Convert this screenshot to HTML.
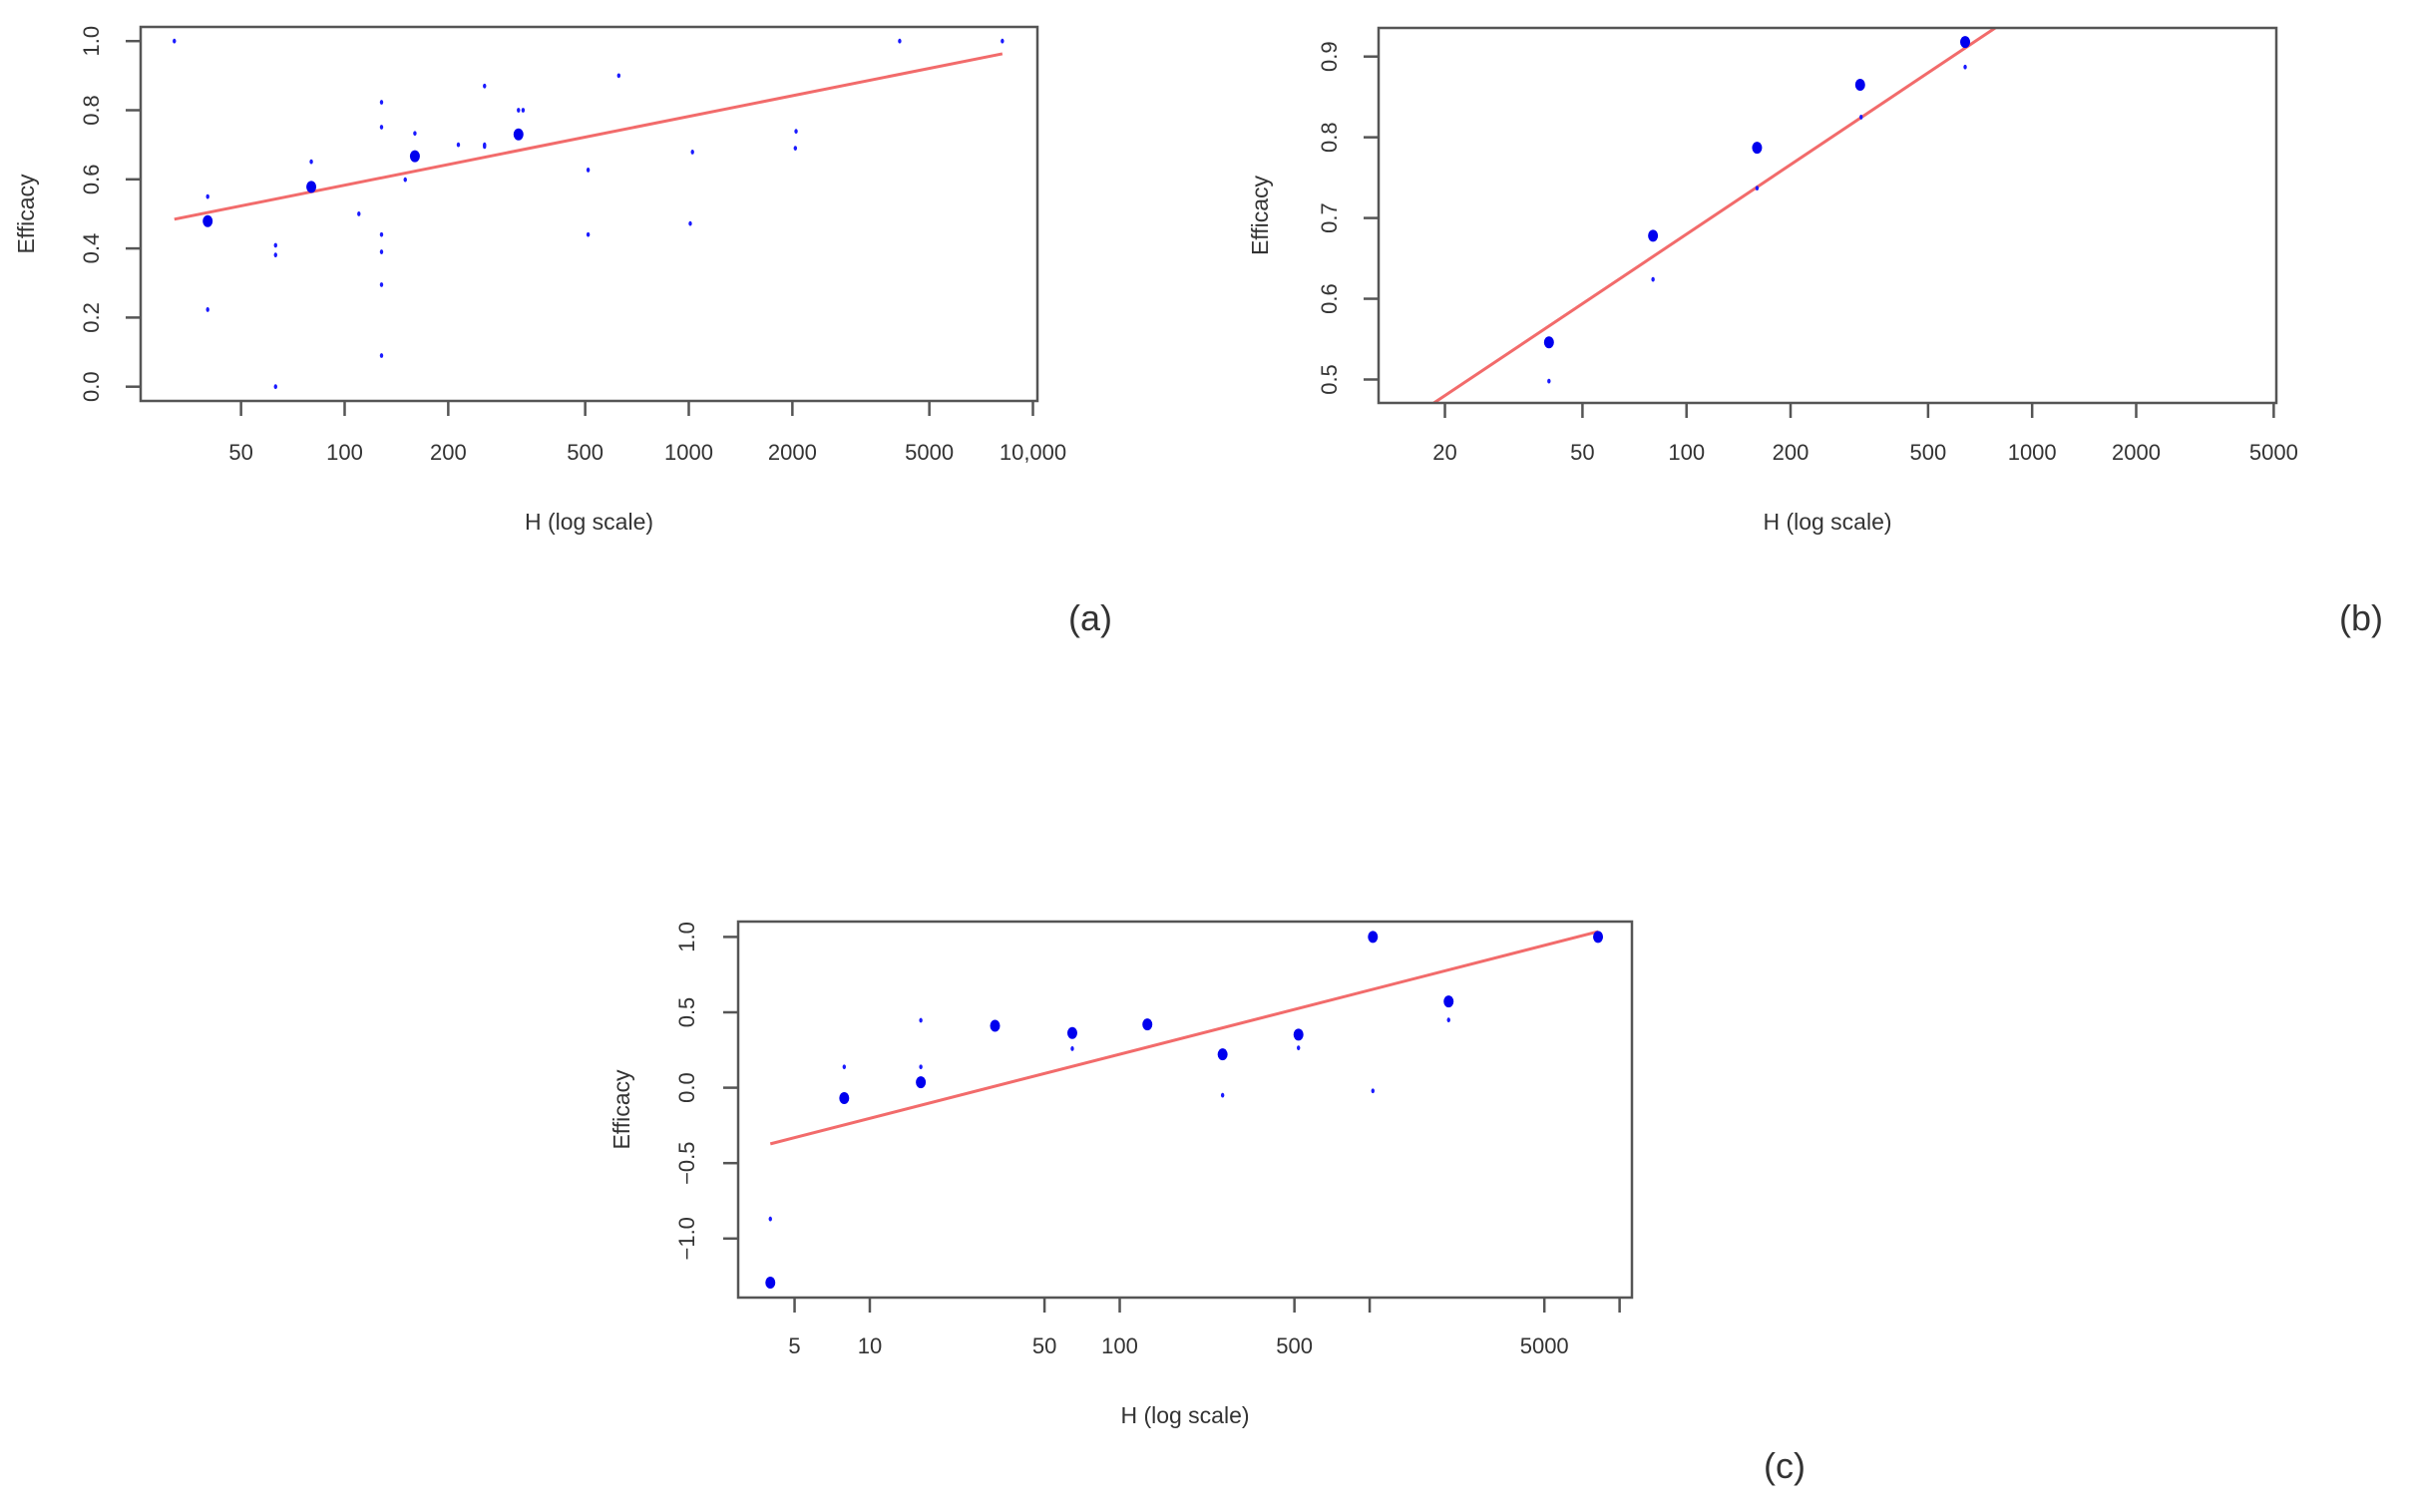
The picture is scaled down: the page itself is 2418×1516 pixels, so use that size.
<!DOCTYPE html>
<html><head><meta charset="utf-8"><style>
html,body{margin:0;padding:0;background:#fff}
svg{display:block}
text{font-family:"Liberation Sans",sans-serif;fill:#333}
</style></head><body>
<svg id="s" width="2418" height="1516" viewBox="0 0 2418 1516"></svg>
<script>
// Panel (a) data
const aBigH=[40,80,160,320];
const aBigY=[0.479,0.578,0.667,0.73];
const aSmallH=[32,40,40,63,63,63,80,110,128,128,128,128,128,128,150,160,214,255,255,255,320,330,510,510,626,1025,1010,2050,2040,4100,8150];
const aSmallY=[1.0,0.55,0.223,0.409,0.381,0.0,0.651,0.50,0.823,0.751,0.44,0.39,0.295,0.09,0.599,0.733,0.70,0.87,0.70,0.695,0.80,0.80,0.627,0.44,0.90,0.679,0.472,0.739,0.69,1.0,1.0];
const aFit=[0.185,0.199];
const aXTicks=[50,100,200,500,1000,2000,5000,10000];
const aXLabels=["50","100","200","500","1000","2000","5000","10,000"];
const aYTicks=[0,0.2,0.4,0.6,0.8,1.0];
const aYLabels=["0.0","0.2","0.4","0.6","0.8","1.0"];
// Panel (b) data
const bBigH=[40,80,160,318,640];
const bBigY=[0.546,0.678,0.787,0.865,0.918];
const bSmallH=[40,80,160,320,640];
const bSmallY=[0.498,0.624,0.737,0.825,0.887];
const bFit=[0.108,0.286];
const bXTicks=[20,50,100,200,500,1000,2000,5000];
const bXLabels=["20","50","100","200","500","1000","2000","5000"];
const bYTicks=[0.5,0.6,0.7,0.8,0.9];
const bYLabels=["0.5","0.6","0.7","0.8","0.9"];
// Panel (c) data
const cBigH=[4,7.9,16,31.7,64.6,129,258,519,1030,2070,8200];
const cBigY=[-1.292,-0.069,0.036,0.411,0.363,0.42,0.221,0.352,1.0,0.572,1.0];
const cSmallH=[4,7.9,16,16,64.6,258,519,1030,2070];
const cSmallY=[-0.87,0.138,0.447,0.138,0.259,-0.05,0.264,-0.021,0.449];
const cFit=[-0.628,0.425];
const cXTicks=[5,10,50,100,500,1000,5000,10000];
const cXLabels=["5","10","50","100","500","","5000",""];
const cYTicks=[-1,-0.5,0,0.5,1];
const cYLabels=["\u22121.0","\u22120.5","0.0","0.5","1.0"];

const NS="http://www.w3.org/2000/svg";
const svg=document.getElementById('s');
function mk(tag,attrs,parent){const e=document.createElementNS(NS,tag);for(const k in attrs)e.setAttribute(k,attrs[k]);(parent||svg).appendChild(e);return e;}

function panel(cfg){
  const g=mk('g',{});
  
  
  const sx=h=>cfg.x0+(Math.log10(h)-cfg.lx0)*cfg.pxDec;
  const sy=v=>cfg.y0-(v-cfg.v0)*cfg.pxUnit;
  const B=cfg.box;
  const cid='clip-'+cfg.name;
  const cp=mk('clipPath',{id:cid},g);
  mk('rect',{x:B[0],y:B[1],width:B[2]-B[0],height:B[3]-B[1]},cp);
  const hA=Math.pow(10,(B[0]-cfg.x0)/cfg.pxDec+cfg.lx0);
  const hB=Math.pow(10,(B[2]-cfg.x0)/cfg.pxDec+cfg.lx0);
  const h1=Math.max(hA,cfg.fitRange[0]),h2=Math.min(hB,cfg.fitRange[1]);
  const ln=mk('line',{x1:sx(h1),y1:sy(cfg.fit[0]+cfg.fit[1]*Math.log10(h1)),x2:sx(h2),y2:sy(cfg.fit[0]+cfg.fit[1]*Math.log10(h2)),stroke:'#f26b6b','stroke-width':3,'clip-path':'url(#'+cid+')'},g);
  
  
  cfg.sH.forEach((h,i)=>{const c=mk('ellipse',{cx:sx(h),cy:sy(cfg.sY[i]),rx:1.7,ry:2.4,fill:'#1a1aff'},g);
    
    });
  cfg.bH.forEach((h,i)=>{const c=mk('ellipse',{cx:sx(h),cy:sy(cfg.bY[i]),rx:5,ry:6,fill:'#0000ee'},g);
    
    });
  const r=mk('rect',{x:B[0],y:B[1],width:B[2]-B[0],height:B[3]-B[1],fill:'none',stroke:'#555','stroke-width':2.5},g);
  
  
  cfg.xT.forEach((t,i)=>{const x=sx(t);
    mk('line',{x1:x,y1:B[3],x2:x,y2:B[3]+15,stroke:'#555','stroke-width':2.5},g);
    if(cfg.xL[i]){const tx=mk('text',{x:x,y:cfg.xLabY,'text-anchor':'middle','font-size':22},g);tx.textContent=cfg.xL[i];
      
      }
  });
  cfg.yT.forEach((t,i)=>{const y=sy(t);
    mk('line',{x1:B[0]-15,y1:y,x2:B[0],y2:y,stroke:'#555','stroke-width':2.5},g);
    const tx=mk('text',{x:0,y:0,'text-anchor':'middle','font-size':22,transform:'translate('+(cfg.yLabX)+','+y+') rotate(-90)'},g);tx.textContent=cfg.yL[i];
    
    
  });
  const xt=mk('text',{x:(B[0]+B[2])/2,y:cfg.xTitleY,'text-anchor':'middle','font-size':23},g);xt.textContent='H (log scale)';
  
  
  const yt=mk('text',{x:0,y:0,'text-anchor':'middle','font-size':23,transform:'translate('+cfg.yTitleX+','+((B[1]+B[3])/2)+') rotate(-90)'},g);yt.textContent='Efficacy';
  
  
  const pl=mk('text',{x:cfg.tag[0],y:cfg.tag[1],'text-anchor':'middle','font-size':36,fill:'#000'},g);pl.textContent=cfg.tagText;
  
  
}

panel({name:'panel-a',box:[141,27,1040,402],x0:345.5,lx0:2,pxDec:345,y0:387.7,v0:0,pxUnit:346.5,
  fit:aFit,fitRange:[32,8150],bH:aBigH,bY:aBigY,sH:aSmallH,sY:aSmallY,xT:aXTicks,xL:aXLabels,yT:aYTicks,yL:aYLabels,
  xLabY:461,xTitleY:531,yLabX:99,yTitleX:34,tag:[1093,632],tagText:'(a)'});
panel({name:'panel-b',box:[1382,28,2282,404],x0:1230+605*0.7615,lx0:2,pxDec:455*0.7615,y0:380.5,v0:0.5,pxUnit:809.5,
  fit:bFit,fitRange:[1,100000],bH:bBigH,bY:bBigY,sH:bSmallH,sY:bSmallY,xT:bXTicks,xL:bXLabels,yT:bYTicks,yL:bYLabels,
  xLabY:461,xTitleY:531,yLabX:1340,yTitleX:1271,tag:[2367,632],tagText:'(b)'});
panel({name:'panel-c',box:[740,924,1636,1301],x0:580+430*0.679,lx0:1,pxDec:369*0.679,y0:1090.6,v0:0,pxUnit:151.2,
  fit:cFit,fitRange:[4,8200],bH:cBigH,bY:cBigY,sH:cSmallH,sY:cSmallY,xT:cXTicks,xL:cXLabels,yT:cYTicks,yL:cYLabels,
  xLabY:1357,xTitleY:1427,yLabX:696,yTitleX:631,tag:[1789,1482],tagText:'(c)'});
</script>
</body></html>
